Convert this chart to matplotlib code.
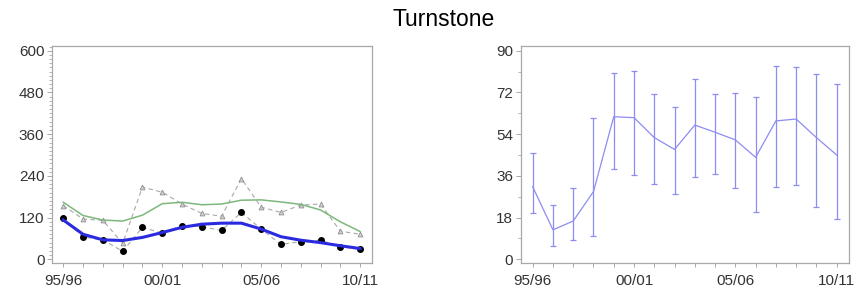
import numpy as np
import matplotlib.pyplot as plt
from matplotlib.ticker import MultipleLocator

plt.rcParams['font.family'] = ['Liberation Sans', 'DejaVu Sans']

# Data
seasons = ["95/96", "96/97", "97/98", "98/99", "99/00", "00/01", "01/02", "02/03",
           "03/04", "04/05", "05/06", "06/07", "07/08", "08/09", "09/10", "10/11"]
x = np.arange(len(seasons))
tick_pos = [0, 5, 10, 15]

# left panel: counts (triangles / circles) and smoothed trends
counts_tri = [154, 116, 112, 46, 208, 193, 159, 132, 124, 232, 150, 135, 156, 159, 81, 72]
counts_dot = [118, 64, 56, 23, 92, 75, 97, 94, 83, 135, 87, 43, 51, 55, 36, 29]
trend_green = [164, 126, 113, 110, 127, 160, 164, 157, 159, 170, 171, 165, 158, 142, 108, 80]
trend_blue = [113, 72, 56, 54, 63, 77, 92, 101, 104, 104, 87, 65, 55, 48, 39, 31]

# right panel: index with confidence limits
index_mean = [31.3, 12.7, 16.5, 29.2, 61.5, 61.1, 52.5, 47.4, 57.9, 54.8, 51.5, 44.0, 59.7, 60.5, 52.5, 45.0]
index_upper = [45.7, 23.4, 30.6, 61.1, 80.5, 81.4, 71.2, 65.8, 77.9, 71.2, 71.9, 70.2, 83.4, 83.1, 79.9, 75.5]
index_lower = [19.8, 5.9, 8.3, 10.2, 38.8, 36.2, 32.6, 28.3, 35.5, 36.9, 30.9, 20.6, 31.1, 31.9, 22.7, 17.3]

fig = plt.figure(figsize=(8.67, 2.96), dpi=100)
ax1 = fig.add_axes([0.060, 0.1115, 0.369, 0.733])
ax2 = fig.add_axes([0.6006, 0.1115, 0.3787, 0.733])

spine_col = "#a8a8a8"
text_col = "#333333"

# left
ax1.plot(x, counts_tri, color="#a8a8a8", linestyle=(0, (4, 3)), linewidth=0.8,
         marker="^", markersize=3.5, markerfacecolor="#d0d0d0", markeredgecolor="#909090",
         markeredgewidth=0.6, zorder=2)
ax1.plot(x, counts_dot, color="#a8a8a8", linestyle=(0, (4, 3)), linewidth=0.8,
         marker="o", markersize=4, markerfacecolor="black", markeredgecolor="black", zorder=3)
ax1.plot(x, trend_green, color="#7cb87c", linewidth=1.1, zorder=2)
ax1.plot(x, trend_blue, color="#2a2ae0", linewidth=2.2, zorder=4)
ax1.set_ylim(-10.6, 613.5)
ax1.yaxis.set_major_locator(MultipleLocator(120))
ax1.yaxis.set_minor_locator(MultipleLocator(12))
ax1.set_xlim(-0.57, 15.6)

# right
ax2.errorbar(x, index_mean,
             yerr=[np.array(index_mean) - np.array(index_lower),
                   np.array(index_upper) - np.array(index_mean)],
             color="#8c8cf2", linewidth=0.9, elinewidth=0.9, capsize=2, capthick=0.9)
ax2.set_ylim(-1.6, 92)
ax2.yaxis.set_major_locator(MultipleLocator(18))
ax2.yaxis.set_minor_locator(MultipleLocator(9))
ax2.set_xlim(-0.59, 15.61)

for ax in (ax1, ax2):
    ax.set_xticks(x)
    ax.set_xticklabels([seasons[i] if i in tick_pos else "" for i in x])
    for s in ax.spines.values():
        s.set_color(spine_col)
        s.set_linewidth(0.9)
    ax.tick_params(axis="both", which="major", length=3.5, width=0.7, color=spine_col,
                   labelsize=11, labelcolor=text_col, pad=2)
    ax.tick_params(axis="y", which="minor", length=2, width=0.6, color=spine_col)
    ax.tick_params(axis="x", which="major", length=3, pad=5)

fig.text(0.512, 0.935, "Turnstone", ha="center", va="center", fontsize=16.5, color="black")

fig.savefig("out.png", dpi=100)
